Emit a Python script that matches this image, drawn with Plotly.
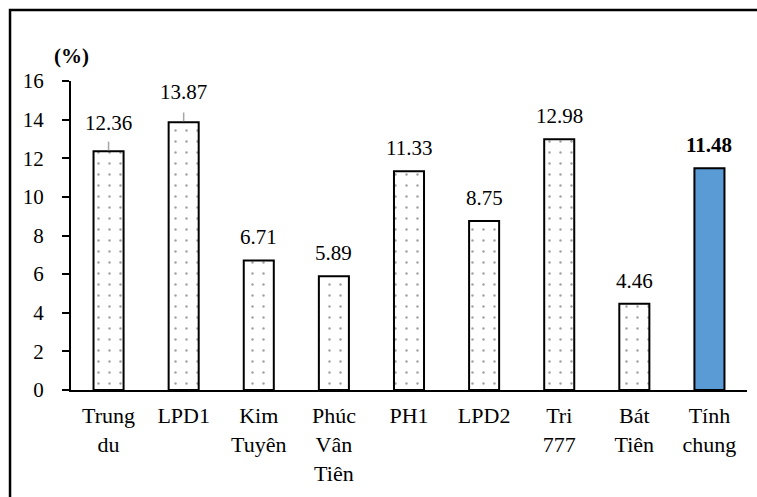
import plotly.graph_objects as go

# Categories (multi-line tick labels) and values in percent
categories = ["Trung<br>du", "LPD1", "Kim<br>Tuyên", "Phúc<br>Vân<br>Tiên", "PH1",
              "LPD2", "Tri<br>777", "Bát<br>Tiên", "Tính<br>chung"]
values = [12.36, 13.87, 6.71, 5.89, 11.33, 8.75, 12.98, 4.46, 11.48]
value_labels = ["12.36", "13.87", "6.71", "5.89", "11.33", "8.75", "12.98", "4.46", "11.48"]
y_ticks = [0, 2, 4, 6, 8, 10, 12, 14, 16]

FONT = "'Times New Roman', 'Liberation Serif', 'DejaVu Serif', serif"
n = len(categories)

# Dotted pattern for the individual sites, solid blue for the overall figure
fills = ["white"] * (n - 1) + ["#5B9BD5"]
shapes_pat = ["."] * (n - 1) + [""]

fig = go.Figure()
fig.add_trace(go.Bar(
    x=list(range(n)),
    y=values,
    width=0.4,
    marker=dict(
        color=fills,
        line=dict(color="black", width=2),
        pattern=dict(shape=shapes_pat, fgcolor="black", bgcolor="white",
                     size=11, solidity=0.04, fillmode="overlay"),
    ),
    hoverinfo="skip",
))

# labels with a leader line sit a little higher
leader = {0: 14, 1: 16}
annotations = []
for i, (v, t) in enumerate(zip(values, value_labels)):
    bold = i == n - 1
    annotations.append(dict(
        x=i, y=v, xref="x", yref="y",
        text=f"<b>{t}</b>" if bold else t,
        showarrow=False, yanchor="bottom",
        yshift=leader.get(i, 9),
        font=dict(family=FONT, size=21, color="black"),
    ))

annotations.append(dict(
    x=0.0, y=1.035, xref="paper", yref="paper",
    text="<b>(%)</b>", showarrow=False, xanchor="center", yanchor="bottom",
    font=dict(family=FONT, size=21, color="black"),
))

shapes = [
    # outer frame (top and left edges visible)
    dict(type="rect", xref="paper", yref="paper",
         x0=-0.0902, x1=2, y0=-2, y1=1.2298,
         line=dict(color="black", width=2.5), fillcolor="rgba(0,0,0,0)", layer="below"),
]
# short leader lines for the two raised labels
for i in leader:
    shapes.append(dict(type="line", xref="x", yref="y",
                       x0=i, x1=i, y0=values[i] + 0.05, y1=values[i] + 0.5,
                       line=dict(color="#a6a6a6", width=1.5)))

fig.update_layout(
    width=757, height=497,
    margin=dict(l=71, r=10, t=81, b=107),
    paper_bgcolor="white", plot_bgcolor="white",
    showlegend=False,
    font=dict(family=FONT, color="black"),
    annotations=annotations,
    shapes=shapes,
    xaxis=dict(
        range=[-0.5, n - 0.5],
        tickmode="array", tickvals=list(range(n)), ticktext=categories,
        showline=True, linecolor="black", linewidth=2,
        ticks="", showgrid=False, zeroline=False,
        tickfont=dict(family=FONT, size=22, color="black"),
        ticklabelstandoff=5,
    ),
    yaxis=dict(
        range=[0, 16],
        tickmode="array", tickvals=y_ticks,
        showline=True, linecolor="black", linewidth=2,
        ticks="outside", ticklen=7, tickwidth=2, tickcolor="black",
        showgrid=False, zeroline=False,
        tickfont=dict(family=FONT, size=21, color="black"),
        ticklabelstandoff=14,
    ),
)

fig.write_html("out.html")
